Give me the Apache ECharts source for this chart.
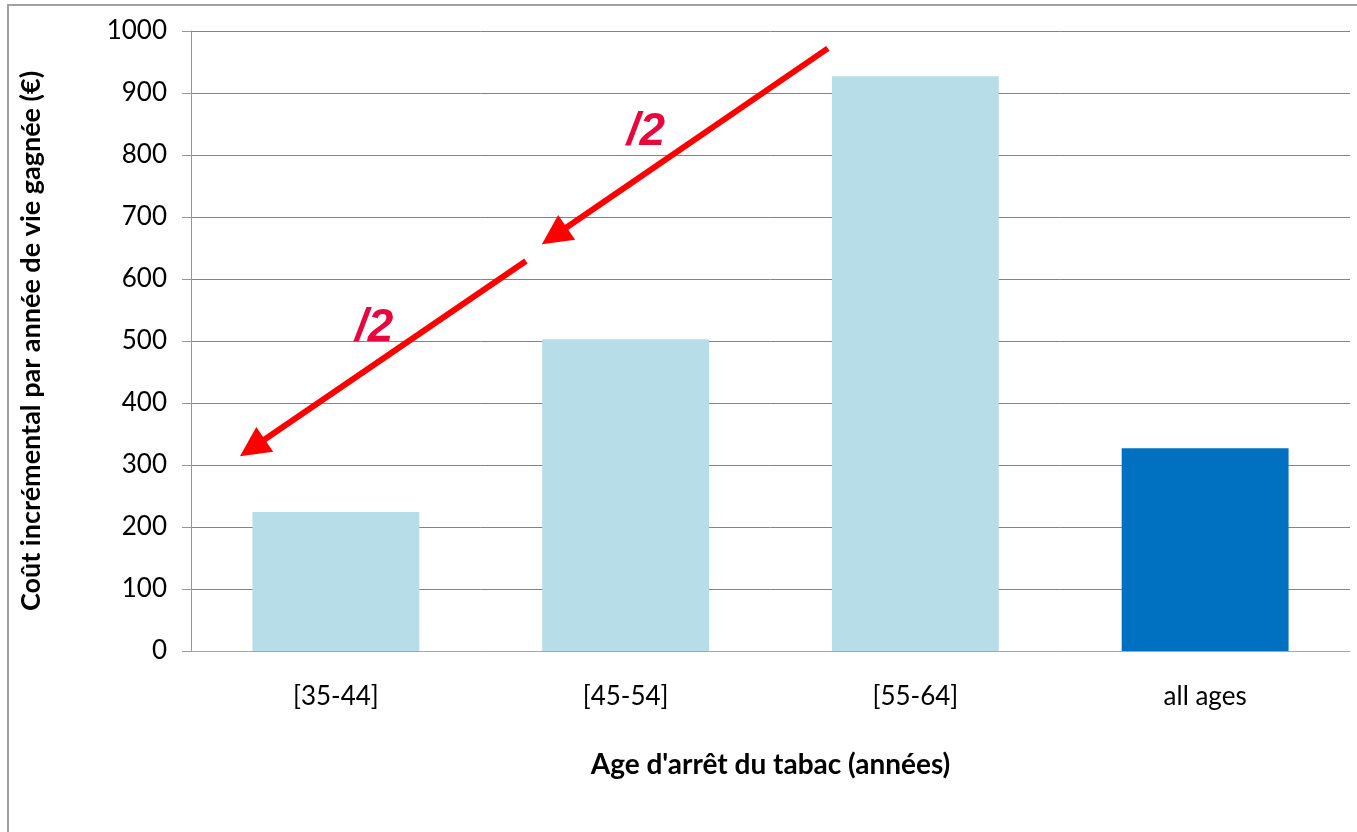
<!DOCTYPE html>
<html><head><meta charset="utf-8">
<script src="https://cdn.jsdelivr.net/npm/echarts@6/dist/echarts.min.js"></script>
<style>html,body{margin:0;padding:0;background:#fff}#c{width:1357px;height:832px}</style>
</head><body><div id="c"></div>
<script>
const categories = ['[35-44]', '[45-54]', '[55-64]', 'all ages'];
const values = [224, 503, 927, 327];
const barColors = ['#b7dde8', '#b7dde8', '#b7dde8', '#0070c0'];
const yTicks = {min: 0, max: 1000, interval: 100};
// annotation arrows in data space: [xStart, yStart, xTip, yTip] (x on a 0..4 category scale)
const arrows = [[2.198, 972, 1.211, 656], [1.156, 629, 0.169, 314]];
// "/2" labels: [x, y]
const halfLabels = [[1.570, 837], [0.632, 521]];

const chart = echarts.init(document.getElementById('c'));
const font = 'Lato';
chart.setOption({
  animation: false,
  backgroundColor: '#fff',
  graphic: [{type: 'rect', shape: {x: 8, y: 5, width: 1400, height: 900}, style: {fill: 'none', stroke: '#a0a0a0', lineWidth: 2}, silent: true}],
  grid: {left: 191, right: 7, top: 31, bottom: 181},
  xAxis: [{
    type: 'category', data: categories,
    axisLine: {lineStyle: {color: '#a6a6a6', width: 1}},
    axisTick: {show: false},
    axisLabel: {color: '#000', fontFamily: font, fontSize: 26, margin: 33},
    name: "Age d'arrêt du tabac (années)", nameLocation: 'middle', nameGap: 100,
    nameTextStyle: {color: '#000', fontFamily: font, fontSize: 28, fontWeight: 'bold'}
  }, {
    type: 'value', min: 0, max: 4, show: false
  }],
  yAxis: {
    type: 'value', min: yTicks.min, max: yTicks.max, interval: yTicks.interval,
    axisLine: {show: true, lineStyle: {color: '#9290c0'}},
    axisTick: {show: true, length: 9, lineStyle: {color: '#9290c0'}},
    splitLine: {lineStyle: {color: '#7e7cb2', width: 1, opacity: 1}},
    axisLabel: {color: '#000', fontFamily: font, fontSize: 26, margin: 24, formatter: v => String(v)},
    name: 'Coût incrémental par année de vie gagnée (€)', nameLocation: 'middle', nameGap: 146, nameRotate: 90,
    nameTextStyle: {color: '#000', fontFamily: font, fontSize: 27, fontWeight: 'bold'}
  },
  series: [{
    type: 'bar', data: values.map((v, i) => ({value: v, itemStyle: {color: barColors[i]}})),
    barWidth: '57.6%', xAxisIndex: 0
  }, {
    type: 'custom', xAxisIndex: 1, yAxisIndex: 0, data: arrows, silent: true, z: 5,
    renderItem: function (params, api) {
      const s = api.coord([api.value(0), api.value(1)]);
      const t = api.coord([api.value(2), api.value(3)]);
      const dx = t[0] - s[0], dy = t[1] - s[1];
      const len = Math.sqrt(dx * dx + dy * dy);
      const ux = dx / len, uy = dy / len;
      const headL = 30, headW = 15;
      const b = [t[0] - ux * headL, t[1] - uy * headL];
      const px = -uy, py = ux;
      return {type: 'group', children: [
        {type: 'line', shape: {x1: s[0], y1: s[1], x2: b[0] + ux * 2, y2: b[1] + uy * 2}, style: {stroke: '#ff0000', lineWidth: 6}},
        {type: 'polygon', shape: {points: [t, [b[0] + px * headW, b[1] + py * headW], [b[0] - px * headW, b[1] - py * headW]]}, style: {fill: '#ff0000'}}
      ]};
    }
  }, {
    type: 'scatter', xAxisIndex: 1, yAxisIndex: 0, data: halfLabels, symbolSize: 0, silent: true, z: 6,
    itemStyle: {opacity: 1, color: '#e8063c'},
    label: {show: true, position: 'inside', formatter: '/2', color: '#e8063c', opacity: 1, textBorderWidth: 0, textBorderColor: 'transparent', fontFamily: 'Liberation Sans', fontSize: 46, fontWeight: 'bold', fontStyle: 'italic'}
  }]
});
</script></body></html>
